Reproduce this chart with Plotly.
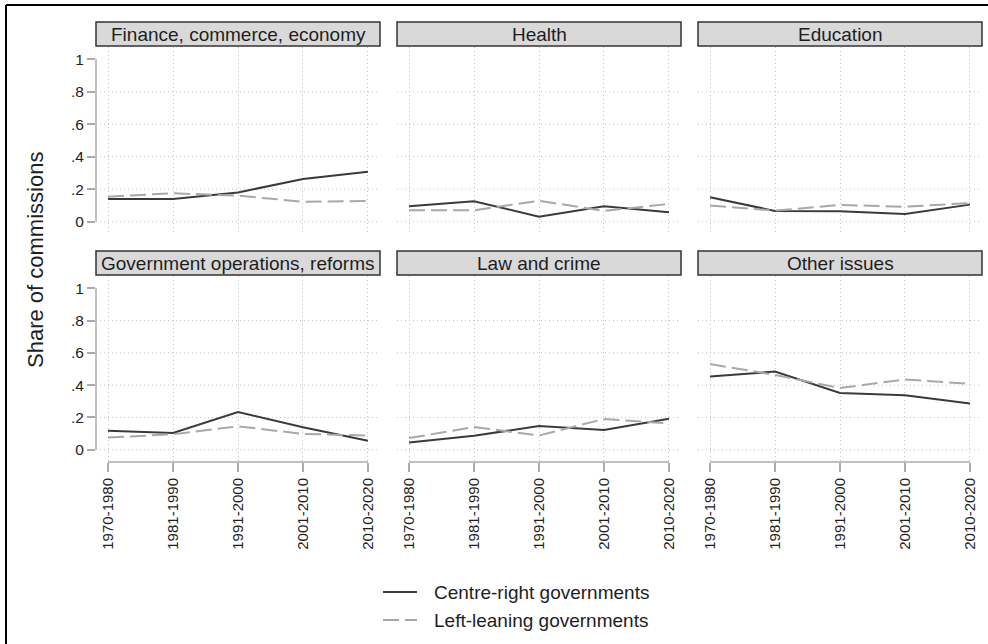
import plotly.graph_objects as go

# Decades on the x axis
periods = ["1970-1980", "1981-1990", "1991-2000", "2001-2010", "2010-2020"]

# Policy areas, one panel each (row by row)
topics = [
    "Finance, commerce, economy",
    "Health",
    "Education",
    "Government operations, reforms",
    "Law and crime",
    "Other issues",
]

# Share of commissions set up under centre-right governments
right_finance = [0.140, 0.140, 0.180, 0.263, 0.308]
right_health = [0.095, 0.126, 0.031, 0.095, 0.058]
right_education = [0.150, 0.066, 0.064, 0.047, 0.105]
right_govops = [0.118, 0.104, 0.233, 0.139, 0.055]
right_law = [0.045, 0.086, 0.147, 0.122, 0.192]
right_other = [0.453, 0.484, 0.351, 0.337, 0.286]

# Share of commissions set up under left-leaning governments
left_finance = [0.154, 0.175, 0.160, 0.123, 0.127]
left_health = [0.070, 0.070, 0.129, 0.066, 0.109]
left_education = [0.099, 0.068, 0.103, 0.092, 0.115]
left_govops = [0.075, 0.096, 0.145, 0.098, 0.088]
left_law = [0.072, 0.141, 0.088, 0.190, 0.163]
left_other = [0.531, 0.463, 0.382, 0.435, 0.408]

right_series = [right_finance, right_health, right_education, right_govops, right_law, right_other]
left_series = [left_finance, left_health, left_education, left_govops, left_law, left_other]

y_ticks = [0, 0.2, 0.4, 0.6, 0.8, 1]
y_tick_text = ["0", ".2", ".4", ".6", ".8", "1"]
y_grid = [0, 0.2, 0.4, 0.6, 0.8]

series_names = ["Centre-right governments", "Left-leaning governments"]

W, H = 988, 644
FONT = "Liberation Sans, Arial, Helvetica, sans-serif"
RIGHT_COLOR = "#3a3a3a"
LEFT_COLOR = "#a8a8a8"
LEFT_DASH = "16px,6px"
GRID_COLOR = "#c4c4c4"
GRID_DASH = "1px,3px"
AXIS_COLOR = "#ababab"
TEXT_COLOR = "#1e1e1e"
X_TICK_FONT = dict(family=FONT, size=15, color=TEXT_COLOR)
Y_TICK_FONT = dict(family=FONT, size=15.5, color=TEXT_COLOR)

# Panel geometry in pixels
col_px = [(96, 380), (397, 681), (698, 982)]
row_plot_px = [(47, 234), (276, 462)]
row_strip_px = [(22, 46), (251, 275)]


def px_x(v):
    return v / W


def px_y(v):
    return 1 - v / H


fig = go.Figure()
shapes, annotations = [], []
axes = {}

for i, topic in enumerate(topics):
    r, c = divmod(i, 3)
    n = i + 1
    xa = "x" if n == 1 else f"x{n}"
    ya = "y" if n == 1 else f"y{n}"
    x0, x1 = col_px[c]
    top, bot = row_plot_px[r]

    fig.add_trace(go.Scatter(
        x=periods, y=right_series[i], mode="lines",
        line=dict(color=RIGHT_COLOR, width=2),
        xaxis=xa, yaxis=ya, showlegend=False, name=series_names[0],
    ))
    fig.add_trace(go.Scatter(
        x=periods, y=left_series[i], mode="lines",
        line=dict(color=LEFT_COLOR, width=2, dash=LEFT_DASH),
        xaxis=xa, yaxis=ya, showlegend=False, name=series_names[1],
    ))

    bottom_row = r == 1
    first_col = c == 0
    axes["xaxis" if n == 1 else f"xaxis{n}"] = dict(
        domain=[px_x(x0), px_x(x1)], anchor=ya,
        type="category", categoryorder="array", categoryarray=periods,
        range=[-0.185, 4.185],
        showgrid=True, gridcolor=GRID_COLOR, griddash=GRID_DASH, gridwidth=1,
        zeroline=False, showline=False,
        ticks="outside" if bottom_row else "", ticklen=9, tickwidth=1.5,
        tickcolor=AXIS_COLOR,
        showticklabels=bottom_row, tickangle=-90,
        tickfont=X_TICK_FONT,
    )
    axes["yaxis" if n == 1 else f"yaxis{n}"] = dict(
        domain=[px_y(bot), px_y(top)], anchor=xa,
        range=[-0.076, 1.076],
        tickmode="array", tickvals=y_ticks, ticktext=y_tick_text,
        showgrid=False, zeroline=False, showline=False,
        ticks="outside" if first_col else "", ticklen=8, tickwidth=1.5,
        tickcolor=AXIS_COLOR,
        showticklabels=first_col,
        tickfont=Y_TICK_FONT,
    )

    # Dotted horizontal grid (no line at the top value)
    for g in y_grid:
        shapes.append(dict(
            type="line", xref=f"{xa} domain", yref=ya,
            x0=0, x1=1, y0=g, y1=g, layer="below",
            line=dict(color=GRID_COLOR, width=1, dash=GRID_DASH),
        ))

    # Y axis line spanning 0..1 in the first column
    if first_col:
        shapes.append(dict(
            type="line", xref=f"{xa} domain", yref=ya,
            x0=0, x1=0, y0=0, y1=1,
            line=dict(color=AXIS_COLOR, width=1.5),
        ))
    # X axis line spanning the categories in the bottom row
    if bottom_row:
        shapes.append(dict(
            type="line", xref=xa, yref=f"{ya} domain",
            x0=0, x1=4, y0=0, y1=0,
            line=dict(color=AXIS_COLOR, width=1.5),
        ))

    # Panel title strip
    s_top, s_bot = row_strip_px[r]
    shapes.append(dict(
        type="rect", xref="paper", yref="paper",
        x0=px_x(x0), x1=px_x(x1), y0=px_y(s_bot), y1=px_y(s_top),
        fillcolor="#d9d9d9", line=dict(color="#333333", width=1.5),
    ))
    annotations.append(dict(
        text=topic, xref="paper", yref="paper",
        x=px_x((x0 + x1) / 2), y=px_y((s_top + s_bot) / 2),
        xanchor="center", yanchor="middle", showarrow=False,
        font=dict(family=FONT, size=19, color=TEXT_COLOR),
    ))

# Y axis title
annotations.append(dict(
    text="Share of commissions", xref="paper", yref="paper",
    x=px_x(35), y=px_y(260), textangle=-90,
    xanchor="center", yanchor="middle", showarrow=False,
    font=dict(family=FONT, size=22, color=TEXT_COLOR),
))

# Legend drawn beneath the panels
legend_rows = [
    (series_names[0], 592, RIGHT_COLOR, None),
    (series_names[1], 620, LEFT_COLOR, LEFT_DASH),
]
for label, ly, color, dash in legend_rows:
    line = dict(color=color, width=2)
    if dash:
        line["dash"] = dash
    shapes.append(dict(
        type="line", xref="paper", yref="paper",
        x0=px_x(383), x1=px_x(417), y0=px_y(ly), y1=px_y(ly), line=line,
    ))
    annotations.append(dict(
        text=label, xref="paper", yref="paper",
        x=px_x(432), y=px_y(ly), xanchor="left", yanchor="middle",
        showarrow=False, font=dict(family=FONT, size=19, color=TEXT_COLOR),
    ))

# Frame along the top and left edges
shapes.append(dict(
    type="line", xref="paper", yref="paper",
    x0=px_x(6), x1=1.01, y0=px_y(5), y1=px_y(5),
    line=dict(color="#000000", width=2),
))
shapes.append(dict(
    type="line", xref="paper", yref="paper",
    x0=px_x(6), x1=px_x(6), y0=px_y(5), y1=-0.01,
    line=dict(color="#000000", width=2),
))

fig.update_layout(
    width=W, height=H,
    margin=dict(l=0, r=0, t=0, b=0),
    paper_bgcolor="white", plot_bgcolor="white",
    font=dict(family=FONT, color=TEXT_COLOR),
    showlegend=False,
    shapes=shapes, annotations=annotations,
    **axes,
)

fig.write_html("out.html")
